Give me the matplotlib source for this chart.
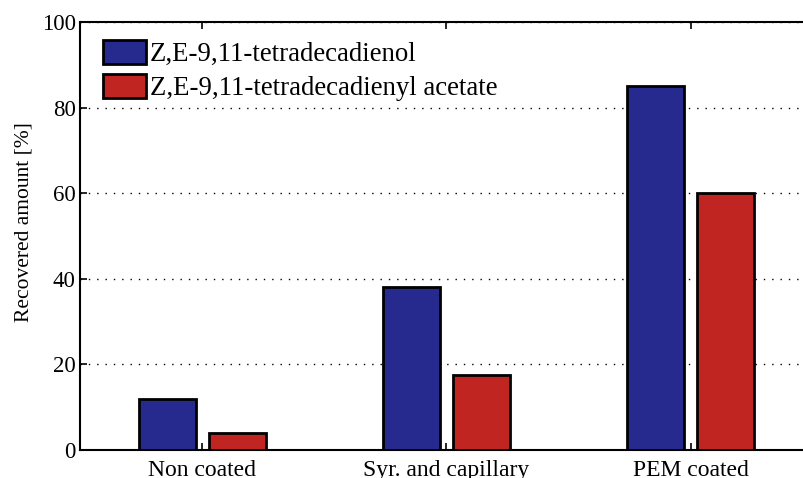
import matplotlib.pyplot as plt
import numpy as np

plt.rcParams['font.family'] = ['Liberation Serif', 'DejaVu Serif']

categories = ['Non coated', 'Syr. and capillary', 'PEM coated']
alcohol = [12, 38, 85]
acetate = [4, 17.5, 60]
labels = ['Z,E-9,11-tetradecadienol', 'Z,E-9,11-tetradecadienyl acetate']

x = np.arange(1, len(categories) + 1)
w = 0.233
off = 0.143

fig = plt.figure(figsize=(8.04, 4.78), dpi=100)
ax = fig.add_axes([80/804, 28/478, 733/804, 428/478])

ax.bar(x - off, alcohol, w, color='#262a8f', edgecolor='black', linewidth=2, label=labels[0], zorder=3)
ax.bar(x + off, acetate, w, color='#c02522', edgecolor='black', linewidth=2, label=labels[1], zorder=3)

ax.set_xlim(0.5, 3.5)
ax.set_ylim(0, 100)
ax.set_xticks(x)
ax.set_xticklabels(categories, fontsize=17)
ax.set_yticks(np.arange(0, 101, 20))
ax.tick_params(axis='y', labelsize=16.5, direction='in', length=5, width=1.2, pad=3)
ax.tick_params(axis='x', direction='in', length=5, width=1.2, top=True, pad=7)
ax.set_ylabel('Recovered amount [%]', fontsize=15.5)
ax.yaxis.set_label_coords(-0.064, 0.533)

ax.yaxis.grid(True, linestyle=(0, (1, 5)), color='black', linewidth=1, zorder=0)
for s in ax.spines.values():
    s.set_linewidth(1.5)

ax.legend(loc='upper left', bbox_to_anchor=(103/804, 1 - 40/478), bbox_transform=fig.transFigure,
          frameon=False, fontsize=19.3, borderpad=0, borderaxespad=0,
          handlelength=1.6, handleheight=1.0, labelspacing=0.24, handletextpad=0.15)

fig.savefig('out.png', dpi=100)
